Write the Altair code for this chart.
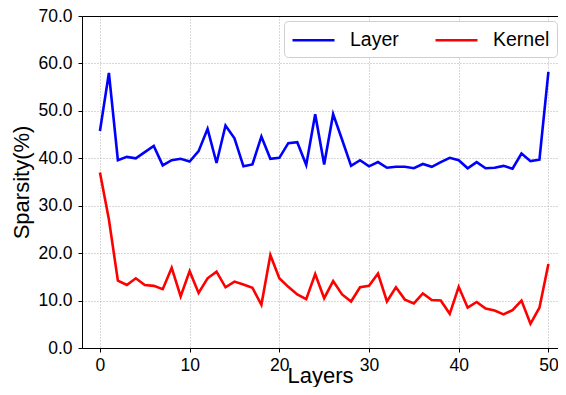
import altair as alt
import pandas as pd

layers = list(range(51))
layer_vals = [45.75, 58.0, 39.6, 40.3, 40.0, 41.3, 42.6, 38.5, 39.6, 39.9,
              39.3, 41.5, 46.2, 39.0, 46.9, 44.2, 38.3, 38.7, 44.6, 39.9,
              40.1, 43.2, 43.4, 38.6, 49.3, 38.7, 49.3, 43.9, 38.4, 39.6,
              38.3, 39.2, 38.0, 38.2, 38.2, 37.9, 38.8, 38.2, 39.2, 40.1,
              39.6, 37.9, 39.2, 37.9, 38.0, 38.4, 37.8, 41.0, 39.4, 39.7,
              58.2]
kernel_vals = [37.0, 27.1, 14.2, 13.3, 14.7, 13.3, 13.1, 12.4, 16.9, 10.9,
               16.2, 11.6, 14.7, 16.1, 12.8, 14.0, 13.4, 12.7, 9.1, 19.6,
               14.7, 12.9, 11.3, 10.3, 15.6, 10.5, 14.1, 11.3, 9.8, 12.8,
               13.1, 15.7, 9.8, 12.8, 10.2, 9.4, 11.5, 10.1, 10.0, 7.2,
               12.9, 8.5, 9.7, 8.3, 7.9, 7.1, 8.0, 10.0, 5.1, 8.5,
               17.7]
series_names = ["Layer", "Kernel"]
series_colors = ["#0000ff", "#ff0000"]
x_ticks = [0, 10, 20, 30, 40, 50]
y_ticks = [0, 10, 20, 30, 40, 50, 60, 70]

df = pd.DataFrame({
    "layer": layers * 2,
    "value": layer_vals + kernel_vals,
    "series": ["Layer"] * len(layers) + ["Kernel"] * len(layers),
})

FONT = "Liberation Sans"
xscale = alt.Scale(domain=[-2.0, 51.07], nice=False, zero=False)
yscale = alt.Scale(domain=[0, 70], nice=False)

lines = alt.Chart(df).mark_line(strokeWidth=2.6).encode(
    x=alt.X("layer:Q", scale=xscale,
            axis=alt.Axis(values=x_ticks, title="Layers", format="d",
                          orient="bottom", labelPadding=4,
                          titleBaseline="bottom", titleY=39)),
    y=alt.Y("value:Q", scale=yscale,
            axis=alt.Axis(values=y_ticks, title="Sparsity(%)", format=".1f",
                          labelPadding=6, titlePadding=4)),
    color=alt.Color("series:N",
                    scale=alt.Scale(domain=series_names, range=series_colors),
                    sort=series_names,
                    legend=alt.Legend(title=None, orient="none",
                                      legendX=202, legendY=5,
                                      direction="horizontal",
                                      symbolType="M-1,0H3",
                                      symbolSize=441,
                                      symbolStrokeWidth=2.4,
                                      labelFontSize=19.5,
                                      labelFont=FONT,
                                      labelColor="black",
                                      labelOffset=35,
                                      columnPadding=31,
                                      padding=7,
                                      strokeColor="#d0d0d0",
                                      fillColor="white",
                                      cornerRadius=4)),
    order=alt.Order("layer:Q"),
)

top_frame = alt.Chart(df).mark_rule(opacity=0).encode(
    x=alt.X("layer:Q", scale=xscale,
            axis=alt.Axis(orient="top", labels=False, ticks=False, grid=False,
                          title=None, domain=True)),
)

chart = alt.layer(lines, top_frame).resolve_axis(x="independent").properties(
    width=476,
    height=332,
    autosize=alt.AutoSizeParams(type="none"),
    padding={"left": 74, "top": 8, "right": 0, "bottom": 39},
).configure_view(
    stroke=None
).configure_axis(
    labelFont=FONT, titleFont=FONT,
    labelFontSize=17.5, titleFontSize=22,
    labelColor="black", titleColor="black",
    titleFontWeight="normal",
    domainColor="black", tickColor="black", domainWidth=1,
    tickSize=4,
    grid=True, gridColor="#b0b0b0", gridDash=[1, 2], gridWidth=1,
)

chart.save("out.html", embed_options={"renderer": "svg", "actions": False})
